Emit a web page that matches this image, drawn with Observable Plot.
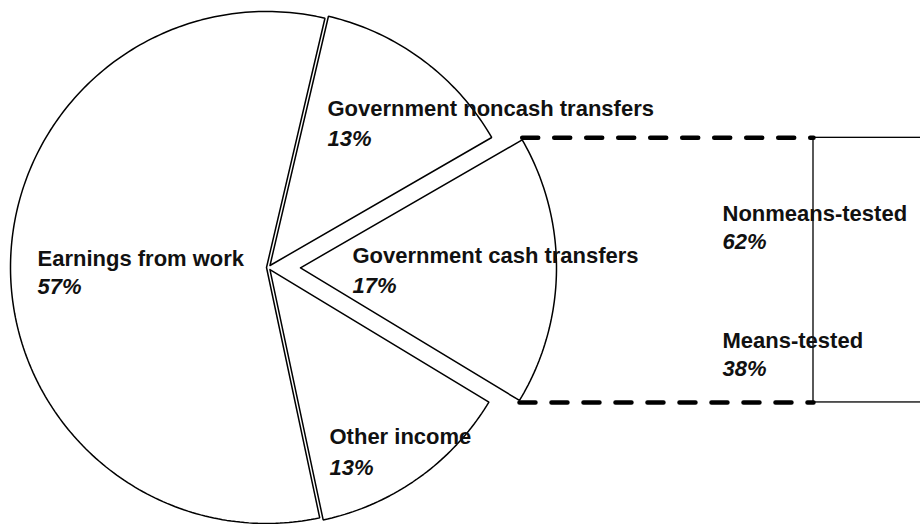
<!DOCTYPE html>
<html>
<head>
<meta charset="utf-8">
<script src="https://cdn.jsdelivr.net/npm/d3@7"></script>
<script src="https://cdn.jsdelivr.net/npm/@observablehq/plot@0.6"></script>
<style>
  html, body { margin: 0; padding: 0; background: #fff; }
  #chart svg { display: block; }
</style>
</head>
<body>
<div id="chart"></div>
<script>
// ---- data ----
const categories = ["Government noncash transfers", "Government cash transfers", "Other income", "Earnings from work"];
const shares = [13, 17, 13, 57];
const breakdownCategories = ["Nonmeans-tested", "Means-tested"];
const breakdownShares = [62, 38];

// ---- layout (pixels) ----
const W = 920, H = 524;
const cx = 268, cy = 267, R = 256;
const startDeg = 13.2;
const explode = [2.5, 32, 2.5, 2];
const barLeft = 813, barRight = 980;
const labelPos = [
  [327, 115, 145],
  [352, 262, 292],
  [329, 443, 474],
  [37, 265, 293]
];
const breakdownLabelPos = [
  [722, 220, 248],
  [722, 347, 375]
];

const rad = d => d * Math.PI / 180;
const pie = d3.pie().sort(null).value(d => d.share)
  .startAngle(rad(startDeg)).endAngle(rad(startDeg) + 2 * Math.PI);
const slices = pie(categories.map((c, i) => ({category: c, share: shares[i], i})));

const polyPts = [];
const sliceGeom = [];
slices.forEach((s, k) => {
  const mid = (s.startAngle + s.endAngle) / 2;
  const ox = cx + explode[k] * Math.sin(mid);
  const oy = cy - explode[k] * Math.cos(mid);
  const pts = [[ox, oy]];
  const n = Math.max(8, Math.ceil((s.endAngle - s.startAngle) / rad(1)));
  for (let j = 0; j <= n; j++) {
    const a = s.startAngle + (s.endAngle - s.startAngle) * j / n;
    pts.push([ox + R * Math.sin(a), oy - R * Math.cos(a)]);
  }
  pts.push([ox, oy]);
  pts.forEach(p => polyPts.push({x: p[0], y: p[1], z: s.data.category}));
  sliceGeom.push({ox, oy, start: pts[1], end: pts[pts.length - 2]});
});

// cash transfer slice connects to the breakdown bar
const cash = sliceGeom[1];
const barTop = cash.start[1] - 2;
const barBottom = cash.end[1] + 2;
const connectors = [
  {x: cash.start[0], y: barTop, z: "top"}, {x: barLeft, y: barTop, z: "top"},
  {x: cash.end[0], y: barBottom, z: "bottom"}, {x: barLeft, y: barBottom, z: "bottom"}
];
const totalBreak = d3.sum(breakdownShares);
const bar = [{x1: barLeft, x2: barRight, y1: barTop, y2: barTop + (barBottom - barTop) * totalBreak / totalBreak}];

const labels = categories.map((c, i) => ({name: c, pct: shares[i] + "%", x: labelPos[i][0], y1: labelPos[i][1], y2: labelPos[i][2]}));
const bLabels = breakdownCategories.map((c, i) => ({name: c, pct: breakdownShares[i] + "%", x: breakdownLabelPos[i][0], y1: breakdownLabelPos[i][1], y2: breakdownLabelPos[i][2]}));
const allLabels = labels.concat(bLabels);

const font = "Liberation Sans, Arial, Helvetica, sans-serif";

const chart = Plot.plot({
  width: W,
  height: H,
  margin: 0,
  x: {domain: [0, W], range: [0, W], axis: null},
  y: {domain: [0, H], range: [0, H], axis: null},
  style: {background: "#fff"},
  marks: [
    Plot.line(polyPts, {x: "x", y: "y", z: "z", fill: "white", stroke: "black", strokeWidth: 1.5, strokeLinejoin: "miter", curve: "linear"}),
    Plot.rect(bar, {x1: "x1", x2: "x2", y1: "y1", y2: "y2", fill: "white", stroke: "black", strokeWidth: 1.3}),
    Plot.line(connectors, {x: "x", y: "y", z: "z", stroke: "black", strokeWidth: 4.5, strokeDasharray: "16,16"}),
    Plot.text(allLabels, {x: "x", y: "y1", text: "name", textAnchor: "start", lineAnchor: "bottom", fontSize: 22, fontWeight: "bold", fontFamily: font, fill: "#111"}),
    Plot.text(allLabels, {x: "x", y: "y2", text: "pct", textAnchor: "start", lineAnchor: "bottom", fontSize: 22, fontWeight: "bold", fontStyle: "italic", fontFamily: font, fill: "#111"})
  ]
});
document.getElementById("chart").append(chart);
</script>
</body>
</html>
